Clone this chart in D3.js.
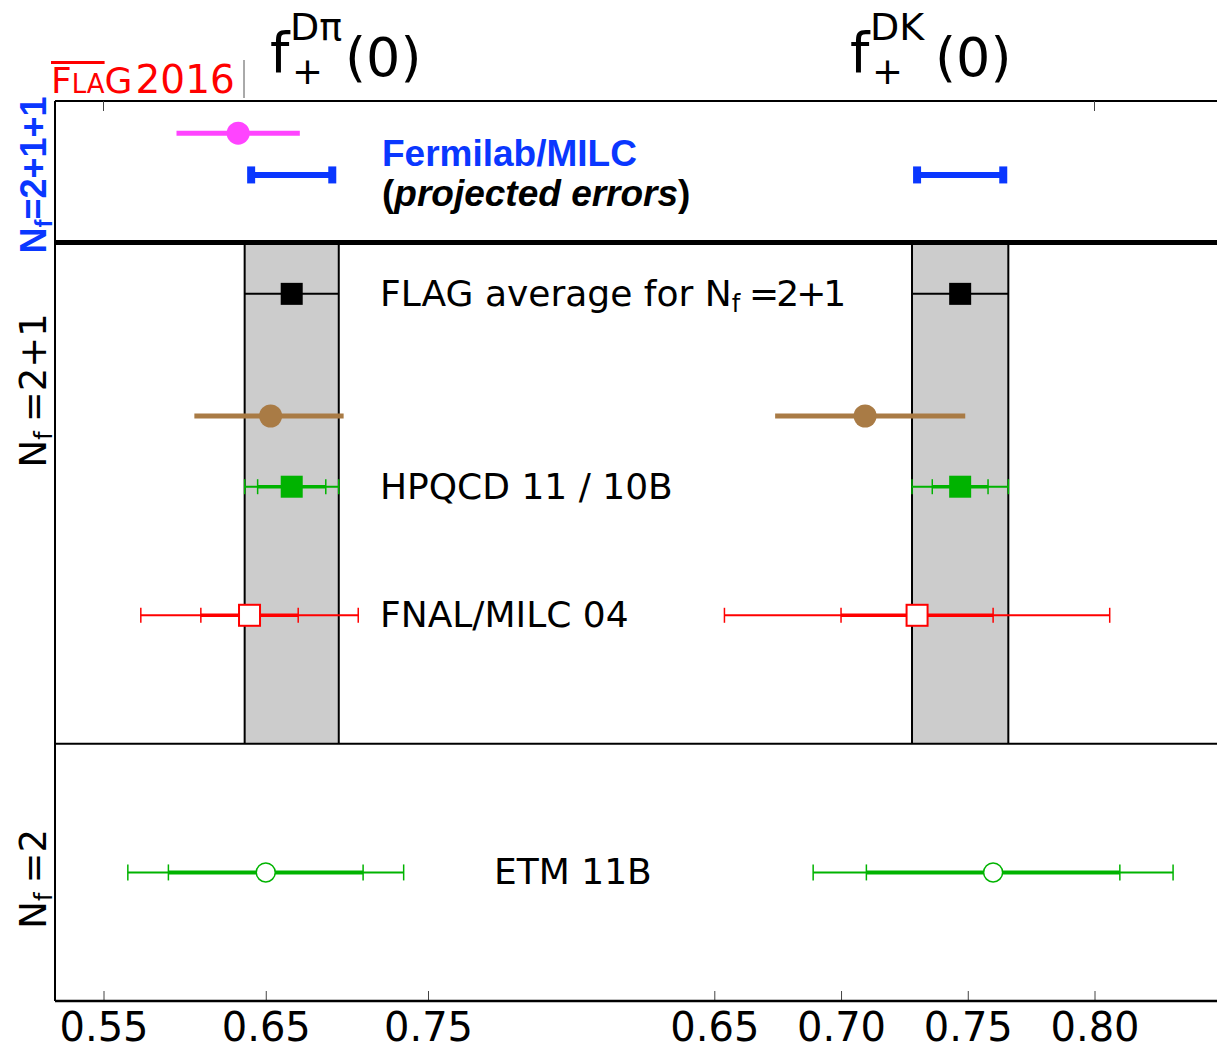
<!DOCTYPE html>
<html>
<head>
<meta charset="utf-8">
<script src="https://cdn.jsdelivr.net/npm/d3@7"></script>
<style>
  body { margin: 0; background: #fff; }
  text { font-family: 'DejaVu Sans', sans-serif; }
</style>
</head>
<body>
<svg id="chart" width="1217" height="1049"></svg>
<script>
// ---- data ----
// rows of the Nf=2+1 and Nf=2 blocks, position on the vertical row scale
const rowNames = ['FLAG average', 'unlabelled', 'HPQCD 11 / 10B', 'FNAL/MILC 04', 'ETM 11B']
const rowPos = [0, 1.9, 3, 5, 9]
const rowKind = ['avg', 'brown', 'hpqcd', 'fnal', 'etm']

// f+^{Dpi}(0): central value, statistical error, lower / upper total error
const dpiValue = [0.666, 0.653, 0.666, 0.64, 0.65]
const dpiStat = [null, null, 0.021, 0.03, 0.06]
const dpiErrLo = [0.029, 0.047, 0.029, 0.067, 0.085]
const dpiErrHi = [0.029, 0.045, 0.029, 0.067, 0.085]

// f+^{DK}(0)
const dkValue = [0.747, 0.7095, 0.747, 0.73, 0.76]
const dkStat = [null, null, 0.011, 0.03, 0.05]
const dkErrLo = [0.019, 0.0355, 0.019, 0.076, 0.071]
const dkErrHi = [0.019, 0.0395, 0.019, 0.076, 0.071]

// Nf=2+1+1 block
const nf4Pos = [-2.5, -1.85]
const nf4DpiValue = [0.633, 0.666]
const nf4DpiErr = [0.038, 0.025]
const nf4DkValue = [null, 0.747]
const nf4DkErr = [null, 0.017]

// block boundaries on the row scale
const blockEdges = [-3, -0.8, 7, 11]

const leftTicks = [0.55, 0.65, 0.75]
const rightTicks = [0.65, 0.70, 0.75, 0.80]

// ---- layout ----
const plotLeft = 55, plotRight = 1219

const svg = d3.select('#chart')

const xL = d3.scaleLinear().domain([0.55, 0.75]).range([103.5, 428])
const xR = d3.scaleLinear().domain([0.65, 0.80]).range([714.3, 1094.5])
const y = d3.scaleLinear().domain([blockEdges[0], blockEdges[3]]).range([101, 1001])

const colors = {
  magenta: '#ff44ff',
  blue: '#0a37ff',
  brown: '#a97b45',
  green: '#00b300',
  red: '#ff0000'
}
const boldFont = "'Liberation Sans', Arial, sans-serif"

// grey FLAG bands
const bandG = svg.append('g')
;[[xL, dpiValue[0], dpiErrLo[0]], [xR, dkValue[0], dkErrLo[0]]].forEach(([x, v, e]) => {
  bandG.append('rect')
    .attr('x', x(v - e))
    .attr('y', y(blockEdges[1]))
    .attr('width', x(v + e) - x(v - e))
    .attr('height', y(blockEdges[2]) - y(blockEdges[1]))
    .attr('fill', '#cccccc')
  ;[v - e, v + e].forEach(b => {
    bandG.append('line')
      .attr('x1', x(b)).attr('x2', x(b))
      .attr('y1', y(blockEdges[1])).attr('y2', y(blockEdges[2]))
      .attr('stroke', '#000').attr('stroke-width', 2)
  })
})

// frame
const frame = svg.append('g')
frame.append('line')
  .attr('x1', plotLeft).attr('x2', plotLeft)
  .attr('y1', y(blockEdges[0])).attr('y2', y(blockEdges[3]))
  .attr('stroke', '#000').attr('stroke-width', 2)
frame.append('line')
  .attr('x1', plotLeft).attr('x2', plotRight)
  .attr('y1', y(blockEdges[0])).attr('y2', y(blockEdges[0]))
  .attr('stroke', '#000').attr('stroke-width', 2)
frame.append('line')
  .attr('x1', plotLeft).attr('x2', plotRight)
  .attr('y1', y(blockEdges[1])).attr('y2', y(blockEdges[1]))
  .attr('stroke', '#000').attr('stroke-width', 5)
frame.append('line')
  .attr('x1', plotLeft).attr('x2', plotRight)
  .attr('y1', y(blockEdges[2])).attr('y2', y(blockEdges[2]))
  .attr('stroke', '#000').attr('stroke-width', 2)

// bottom axes
function drawAxis(scale, ticks) {
  const axis = d3.axisBottom(scale)
    .tickValues(ticks)
    .tickFormat(d3.format('.2f'))
    .tickSizeInner(-10)
    .tickSizeOuter(0)
    .tickPadding(12)
  const ax = svg.append('g')
    .attr('transform', `translate(0, ${y(blockEdges[3])})`)
    .call(axis)
  ax.select('.domain').remove()
  ax.selectAll('.tick line').attr('stroke', '#444').attr('stroke-width', 1)
  ax.selectAll('.tick text')
    .attr('font-family', 'DejaVu Sans')
    .attr('font-size', 40)
    .attr('fill', '#000')

  // top ticks, where not hidden behind the titles
  svg.append('g').selectAll('line')
    .data(ticks.filter(t => scale(t) < 244 || scale(t) > 1010))
    .join('line')
    .attr('x1', d => scale(d)).attr('x2', d => scale(d))
    .attr('y1', y(blockEdges[0])).attr('y2', y(blockEdges[0]) + 10)
    .attr('stroke', '#444').attr('stroke-width', 1)
}
drawAxis(xL, leftTicks)
drawAxis(xR, rightTicks)

svg.append('line')
  .attr('x1', plotLeft).attr('x2', plotRight)
  .attr('y1', y(blockEdges[3])).attr('y2', y(blockEdges[3]))
  .attr('stroke', '#000').attr('stroke-width', 2.5)

// ---- marks ----
const marks = svg.append('g')

function hline(x1, x2, yy, color, width) {
  marks.append('line')
    .attr('x1', x1).attr('x2', x2).attr('y1', yy).attr('y2', yy)
    .attr('stroke', color).attr('stroke-width', width)
}
function cap(xx, yy, color, h, width) {
  marks.append('line')
    .attr('x1', xx).attr('x2', xx).attr('y1', yy - h / 2).attr('y2', yy + h / 2)
    .attr('stroke', color).attr('stroke-width', width)
}
function square(xx, yy, size, fill, stroke) {
  marks.append('rect')
    .attr('x', xx - size / 2).attr('y', yy - size / 2)
    .attr('width', size).attr('height', size)
    .attr('fill', fill).attr('stroke', stroke).attr('stroke-width', stroke === 'none' ? 0 : 2)
}
function circle(xx, yy, r, fill, stroke) {
  marks.append('circle')
    .attr('cx', xx).attr('cy', yy).attr('r', r)
    .attr('fill', fill).attr('stroke', stroke).attr('stroke-width', stroke === 'none' ? 0 : 1.5)
}

function drawRow(x, kind, pos, v, stat, lo, hi) {
  if (v == null) return
  const yy = y(pos)
  if (kind === 'avg') {
    hline(x(v - lo), x(v + hi), yy, '#000', 2)
    square(x(v), yy, 22, '#000', 'none')
  } else if (kind === 'brown') {
    hline(x(v - lo), x(v + hi), yy, colors.brown, 5)
    circle(x(v), yy, 11.5, colors.brown, 'none')
  } else if (kind === 'hpqcd') {
    hline(x(v - lo), x(v + hi), yy, colors.green, 2)
    hline(x(v - stat), x(v + stat), yy, colors.green, 3.5)
    ;[v - lo, v + hi, v - stat, v + stat].forEach(t => cap(x(t), yy, colors.green, 15, 1.5))
    square(x(v), yy, 22, colors.green, 'none')
  } else if (kind === 'fnal') {
    hline(x(v - lo), x(v + hi), yy, colors.red, 2)
    hline(x(v - stat), x(v + stat), yy, colors.red, 3.5)
    ;[v - lo, v + hi, v - stat, v + stat].forEach(t => cap(x(t), yy, colors.red, 15, 1.5))
    square(x(v), yy, 21, '#fff', colors.red)
  } else if (kind === 'etm') {
    hline(x(v - lo), x(v + hi), yy, colors.green, 2)
    hline(x(v - stat), x(v + stat), yy, colors.green, 4)
    ;[v - lo, v + hi, v - stat, v + stat].forEach(t => cap(x(t), yy, colors.green, 16, 1.5))
    circle(x(v), yy, 9.5, '#fff', colors.green)
  }
}

rowKind.forEach((kind, i) => {
  drawRow(xL, kind, rowPos[i], dpiValue[i], dpiStat[i], dpiErrLo[i], dpiErrHi[i])
  drawRow(xR, kind, rowPos[i], dkValue[i], dkStat[i], dkErrLo[i], dkErrHi[i])
})

// Nf=2+1+1: magenta point and projected errors
function drawNf4(x, values, errs) {
  values.forEach((v, i) => {
    if (v == null) return
    const yy = y(nf4Pos[i])
    if (i === 0) {
      hline(x(v - errs[i]), x(v + errs[i]), yy, colors.magenta, 5)
      circle(x(v), yy, 11.5, colors.magenta, 'none')
    } else {
      hline(x(v - errs[i]), x(v + errs[i]), yy, colors.blue, 6)
      ;[v - errs[i], v + errs[i]].forEach(t => {
        marks.append('rect')
          .attr('x', x(t) - 4).attr('y', yy - 8.5)
          .attr('width', 8).attr('height', 17)
          .attr('fill', colors.blue)
      })
    }
  })
}
drawNf4(xL, nf4DpiValue, nf4DpiErr)
drawNf4(xR, nf4DkValue, nf4DkErr)

// ---- texts ----
const labels = svg.append('g').attr('font-size', 36).attr('fill', '#000')
const labelX = { avg: 380, brown: 380, hpqcd: 380, fnal: 380, etm: 494 }

const avgText = labels.append('text')
  .attr('x', labelX.avg).attr('y', y(rowPos[0]) + 12)
avgText.append('tspan').text('FLAG average for N')
avgText.append('tspan').attr('font-size', 24).attr('dy', 6).text('f')
avgText.append('tspan').attr('dy', -6).attr('dx', 9).attr('letter-spacing', -3).text('=2+1')

rowKind.forEach((kind, i) => {
  if (kind === 'avg' || kind === 'brown') return
  labels.append('text')
    .attr('x', labelX[kind]).attr('y', y(rowPos[i]) + 12)
    .text(rowNames[i])
})

// Fermilab/MILC projected errors
const fm = svg.append('g')
  .attr('font-weight', 'bold')
  .attr('font-size', 37)
fm.append('text').attr('x', 382).attr('y', y(nf4Pos[0]) + 33)
  .attr('fill', colors.blue).style('font-family', boldFont)
  .text('Fermilab/MILC')
const pe = fm.append('text').attr('x', 382).attr('y', y(nf4Pos[1]) + 31)
  .attr('fill', '#000').style('font-family', boldFont)
pe.append('tspan').text('(')
pe.append('tspan').attr('font-style', 'italic').text('projected errors')
pe.append('tspan').text(')')

// Nf labels on the left
const nfLabels = [
  { text: '2+1+1', pos: -1.85, color: colors.blue, bold: true },
  { text: '=2+1', pos: 1.5, color: '#000', bold: false },
  { text: '=2', pos: 9.1, color: '#000', bold: false }
]
nfLabels.forEach(d => {
  const t = svg.append('text')
    .attr('transform', `translate(46, ${y(d.pos)}) rotate(-90)`)
    .attr('text-anchor', 'middle')
    .attr('font-size', d.bold ? 36 : 37)
    .attr('fill', d.color)
  if (d.bold) {
    t.attr('font-weight', 'bold').style('font-family', boldFont)
  }
  t.append('tspan').text('N')
  t.append('tspan').attr('font-size', 24).attr('dy', 6).text('f')
  t.append('tspan').attr('dy', -6).attr('dx', d.bold ? 0 : 9).text(d.bold ? '=' + d.text : d.text)
})

// titles
function title(x0, sup, paren) {
  const g = svg.append('g').attr('fill', '#000')
  g.append('text').attr('x', x0).attr('y', 72).attr('font-size', 55).text('f')
  g.append('text').attr('x', x0 + 20).attr('y', 40).attr('font-size', 38).text(sup)
  g.append('text').attr('x', x0 + 22).attr('y', 84).attr('font-size', 37).text('+')
  g.append('text').attr('x', paren).attr('y', 76).attr('font-size', 54).text('(0)')
}
title(270, 'D\u03c0', 345)
title(850, 'DK', 935)

// FLAG 2016 logo
const logo = svg.append('text').attr('x', 51).attr('y', 93).attr('fill', '#ff0000')
logo.append('tspan').attr('font-size', 36).text('F')
logo.append('tspan').attr('font-size', 26).text('LA')
logo.append('tspan').attr('font-size', 36).text('G')
logo.append('tspan').attr('font-size', 39).attr('dx', 3).text('2016')
const flaW = logo.node().getSubStringLength(0, 3)
svg.append('rect')
  .attr('x', 51).attr('y', 61).attr('width', flaW).attr('height', 3)
  .attr('fill', '#ff0000')
svg.append('line')
  .attr('x1', 244).attr('x2', 244).attr('y1', 60).attr('y2', 98)
  .attr('stroke', '#555').attr('stroke-width', 1)
</script>
</body>
</html>
